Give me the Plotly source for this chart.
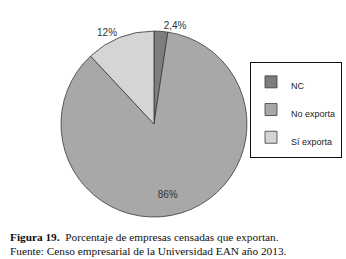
import plotly.graph_objects as go

categories = ["NC", "No exporta", "Sí exporta"]
values = [2.4, 86, 12]
value_labels = ["2,4%", "&#160;<br>&#160;<br>&#160;<br>&#160;<br>86%", "12%"]
colors = ["#7d7d7d", "#a8a8a8", "#d5d5d5"]

fig = go.Figure()
fig.add_trace(go.Pie(
    labels=[f"<span style='font-size:9px'>{c}</span>" for c in categories],
    values=values,
    text=value_labels,
    textinfo="text",
    textposition=["outside", "inside", "outside"],
    insidetextorientation="horizontal",
    sort=False,
    direction="clockwise",
    rotation=0,
    marker=dict(colors=colors, line=dict(color="#3a3a3a", width=0.8)),
    textfont=dict(family="Liberation Sans, Arial", size=10, color="#333333"),
    outsidetextfont=dict(family="Liberation Sans, Arial", size=10, color="#333333"),
    domain=dict(x=[0.176, 0.714], y=[0.162, 0.880]),
    showlegend=True,
    hoverinfo="skip",
))

fig.update_layout(
    width=346, height=259,
    margin=dict(l=0, r=0, t=0, b=0),
    paper_bgcolor="white",
    plot_bgcolor="white",
    legend=dict(
        x=250 / 346, y=(259 - 62) / 259, xanchor="left", yanchor="top",
        bordercolor="#111111", borderwidth=1,
        font=dict(family="Liberation Sans, Arial", size=19, color="#222222"),
        itemclick=False,
    ),
    annotations=[
        dict(text="<b>Figura 19.</b>  Porcentaje de empresas censadas que exportan.",
             x=8 / 346, y=(259 - 237) / 259, xref="paper", yref="paper",
             xanchor="left", yanchor="middle", showarrow=False,
             font=dict(family="Liberation Serif", size=11.3, color="#111111")),
        dict(text="Fuente: Censo empresarial de la Universidad EAN año 2013.",
             x=8 / 346, y=(259 - 251) / 259, xref="paper", yref="paper",
             xanchor="left", yanchor="middle", showarrow=False,
             font=dict(family="Liberation Serif", size=11.3, color="#111111")),
    ],
)

fig.write_html("out.html", config={"displayModeBar": False},
               post_script="document.body.style.margin='0px';")
